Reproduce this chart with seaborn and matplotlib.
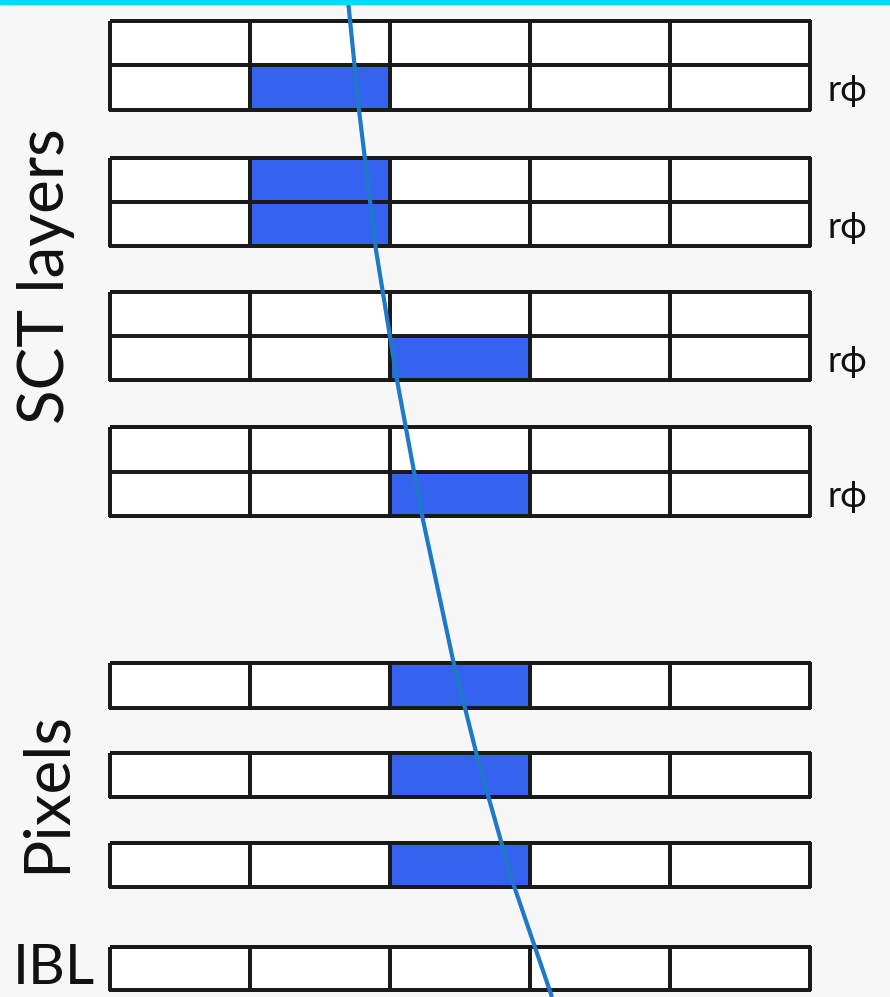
import matplotlib.pyplot as plt
import seaborn as sns
import numpy as np
from matplotlib.colors import ListedColormap

sns.set_style("white")
plt.rcParams["font.family"] = ["Lato", "DejaVu Sans"]

# detector layers, top to bottom
layer_names = ["SCT 1", "SCT 2", "SCT 3", "SCT 4", "Pixel 1", "Pixel 2", "Pixel 3", "IBL"]
# which strip/pixel is hit in each row of a layer (-1 = no hit)
layer_hits = [
    [-1, 1],
    [1, 1],
    [-1, 2],
    [-1, 2],
    [2],
    [2],
    [2],
    [-1],
]
n_cells = 5
rphi_layers = ["SCT 1", "SCT 2", "SCT 3", "SCT 4"]

# track (pixel coords)
track_y = [0, 110, 250, 380, 520, 660, 760, 880, 997]
track_x = [348, 359, 376, 397, 423, 453, 478, 512, 552]

# layout in pixels: top/bottom edge of each layer box
W, H = 890, 997
box_left, box_right = 110, 810
layer_top = [21, 158, 292, 427, 663, 753, 843, 947]
layer_bottom = [110, 246, 380, 516, 708, 797, 887, 990]

hit_blue = "#3563f0"
track_blue = "#1f78c8"
bg = "#f7f7f7"

fig = plt.figure(figsize=(W / 100, H / 100), dpi=100, facecolor=bg)
cmap = ListedColormap(["white", hit_blue])

for name, hits, top, bot in zip(layer_names, layer_hits, layer_top, layer_bottom):
    ax = fig.add_axes([box_left / W, 1 - bot / H, (box_right - box_left) / W, (bot - top) / H])
    grid = np.zeros((len(hits), n_cells))
    for r, c in enumerate(hits):
        if c >= 0:
            grid[r, c] = 1
    sns.heatmap(grid, ax=ax, cmap=cmap, vmin=0, vmax=1, cbar=False,
                linewidths=1.6, linecolor="#1a1a1a",
                xticklabels=False, yticklabels=False)
    ax.collections[0].set_clip_on(False)
    ax.tick_params(length=0)

# overlay in pixel coordinates for the track and the labels
ov = fig.add_axes([0, 0, 1, 1], facecolor="none")
ov.set_xlim(0, W)
ov.set_ylim(H, 0)
ov.axis("off")
ov.axhspan(0, 4.5, color="#00dcff", zorder=5)

sns.lineplot(x=track_x, y=track_y, ax=ov, sort=False, estimator=None,
             color=track_blue, linewidth=3.0, zorder=4,
             solid_joinstyle="round", solid_capstyle="butt")

txt = "#111111"
for name, top, bot in zip(layer_names, layer_top, layer_bottom):
    if name in rphi_layers:
        yc = top + 0.75 * (bot - top)
        ov.text(827, yc + 3, "r\u03d5", ha="left", va="center", fontsize=26, color=txt)

ov.text(46, 276, "SCT layers", rotation=90, ha="center", va="center", fontsize=46, color=txt)
ov.text(47, 792, "Pixels", rotation=90, ha="center", va="center", fontsize=46, color=txt)
ov.text(54, 984, "IBL", ha="center", va="baseline", fontsize=41, color=txt)

fig.savefig("out.png", dpi=100, facecolor=fig.get_facecolor())
